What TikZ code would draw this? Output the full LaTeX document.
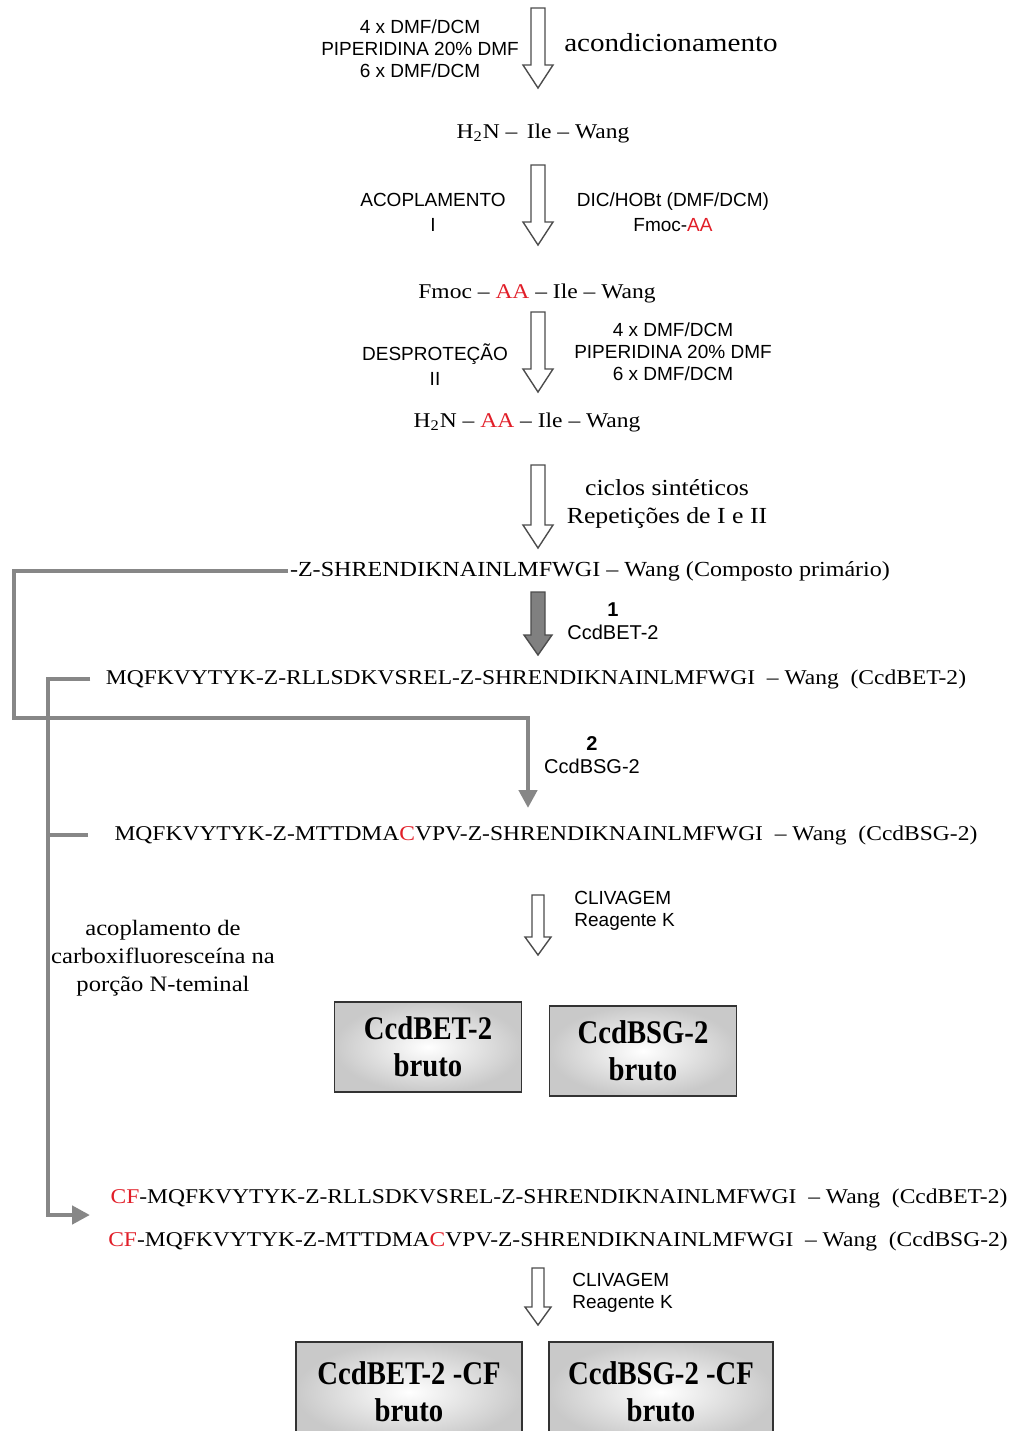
\documentclass[tikz,border=0pt]{standalone}
\usepackage{fontspec}
\setmainfont{Liberation Serif}[FakeStretch=1.12]
\setsansfont{Liberation Sans}
\newfontfamily\boxfont{Liberation Serif}[FakeStretch=0.87]
\usepackage{tikz}
\usetikzlibrary{arrows.meta, positioning}
\definecolor{aared}{RGB}{225,30,40}
\definecolor{linkgray}{RGB}{135,135,135}

\begin{document}
\begin{tikzpicture}[x=0.5pt, y=-0.5pt,
  chem/.style={font=\fontsize{10.5}{14}\selectfont, inner sep=1pt},
  reag/.style={font=\sffamily\fontsize{9.5}{11}\selectfont, align=center, inner sep=1pt},
  note/.style={font=\fontsize{11}{14}\selectfont, align=center, inner sep=1pt},
  crude/.style={rectangle, draw=black!80, line width=0.8pt, shading=radial,
                inner color=white, outer color=gray!42, align=center,
                font=\boxfont\bfseries\fontsize{16.5}{18.5}\selectfont,
                minimum width=93.5pt, minimum height=45pt},
  link/.style={draw=linkgray, line width=2.4pt},
  linkarrow/.style={link, -{Triangle[length=9pt, width=9pt]}},
  openarrow/.style={draw=black!70, line width=0.7pt, fill=white},
  grayarrow/.style={draw=black!70, line width=0.7pt, fill=black!50},
  pics/blockarrow/.style n args={5}{code={
    \path[#5] (-#2,0) -- (-#2,#1-#4) -- (-#3,#1-#4) -- (0,#1)
      -- (#3,#1-#4) -- (#2,#1-#4) -- (#2,0) -- cycle;
  }}
]
\clip (0,0) rectangle (1014,1431);

% conditioning of the resin
\node[reag] (cond) at (420,49) {4 x DMF/DCM\\PIPERIDINA 20\% DMF\\6 x DMF/DCM};
\node[chem, font=\fontsize{13}{15}\selectfont] (acond) at (671,43) {acondicionamento};
\pic at (538,8) {blockarrow={80}{7}{15}{23}{openarrow}};
\node[chem] (h2n) at (543,133) {H\textsubscript{2}N –\, Ile – Wang};

% coupling (I)
\pic at (538,165) {blockarrow={80}{7}{15}{23}{openarrow}};
\node[reag, font=\sffamily\fontsize{9.5}{12.5}\selectfont] (acopl) at (433,212) {ACOPLAMENTO\\I};
\node[reag, font=\sffamily\fontsize{9.5}{12.5}\selectfont] (dic) at (673,212)
  {DIC/HOBt (DMF/DCM)\\Fmoc-\textcolor{aared}{AA}};
\node[chem] (fmoc) at (537,293) {Fmoc – \textcolor{aared}{AA} – Ile – Wang};

% deprotection (II)
\pic at (538,312) {blockarrow={80}{7}{15}{23}{openarrow}};
\node[reag, font=\sffamily\fontsize{9.5}{12.5}\selectfont] (desp) at (435,365) {DESPROTEÇÃO\\II};
\node[reag] (depr) at (673,352) {4 x DMF/DCM\\PIPERIDINA 20\% DMF\\6 x DMF/DCM};
\node[chem] (h2naa) at (527,422) {H\textsubscript{2}N – \textcolor{aared}{AA} – Ile – Wang};

% synthetic cycles
\pic at (538,465) {blockarrow={83}{7}{15}{23}{openarrow}};
\node[note, font=\fontsize{11.5}{14}\selectfont] (ciclos) at (667,504)
  {ciclos sintéticos\\Repetições de I e II};
\node[chem, font=\fontsize{10.75}{14}\selectfont] (prim) at (590,571)
  {-Z-SHRENDIKNAINLMFWGI – Wang (Composto primário)};

% route 1
\pic at (538,592) {blockarrow={63}{7}{14}{20}{grayarrow}};
\node[reag, font=\sffamily\fontsize{10}{11.5}\selectfont] (lab1) at (613,621) {\textbf{1}\\CcdBET-2};
\node[chem] (bet) at (536,679)
  {MQFKVYTYK-Z-RLLSDKVSREL-Z-SHRENDIKNAINLMFWGI~~– Wang~~(CcdBET-2)};

% route 2
\node[reag, font=\sffamily\fontsize{10}{11.5}\selectfont] (lab2) at (592,755) {\textbf{2}\\CcdBSG-2};
\node[chem] (bsg) at (546,835)
  {MQFKVYTYK-Z-MTTDMA\textcolor{aared}{C}VPV-Z-SHRENDIKNAINLMFWGI~~– Wang~~(CcdBSG-2)};
\coordinate (loopA) at (14,718);
\coordinate (tipA) at (528,808);
\draw[linkarrow] (prim.west) -| (loopA) -| (tipA);

% cleavage
\pic at (538,895) {blockarrow={60}{6}{13}{18}{openarrow}};
\node[reag, align=left, anchor=west] (cliv1) at (572,911) {CLIVAGEM\\Reagente K};
\node[note] (acop) at (163,958) {acoplamento de\\carboxifluoresceína na\\porção N-teminal};
\node[crude] (crbet) at (428,1047) {CcdBET-2\\bruto};
\node[crude] (crbsg) at (643,1051) {CcdBSG-2\\bruto};

% carboxyfluorescein labelling
\coordinate (sideB) at (48,1215);
\coordinate (tipB) at (90,1215);
\draw[linkarrow] ([xshift=-6.5pt]bet.west) -| (sideB) -- (tipB);
\draw[link] ([xshift=-12pt]bsg.west) -- (bsg.west -| sideB);
\node[chem] (cfbet) at (559,1198)
  {\textcolor{aared}{CF}-MQFKVYTYK-Z-RLLSDKVSREL-Z-SHRENDIKNAINLMFWGI~~– Wang~~(CcdBET-2)};
\node[chem] (cfbsg) at (558,1241)
  {\textcolor{aared}{CF}-MQFKVYTYK-Z-MTTDMA\textcolor{aared}{C}VPV-Z-SHRENDIKNAINLMFWGI~~– Wang~~(CcdBSG-2)};
\pic at (538,1268) {blockarrow={57}{6}{13}{18}{openarrow}};
\node[reag, align=left, anchor=west] (cliv2) at (570,1293) {CLIVAGEM\\Reagente K};
\node[crude, minimum width=113pt, minimum height=50pt] (crbetcf) at (409,1392) {CcdBET-2 -CF\\bruto};
\node[crude, minimum width=112pt, minimum height=50pt] (crbsgcf) at (661,1392) {CcdBSG-2 -CF\\bruto};

\end{tikzpicture}
\end{document}
